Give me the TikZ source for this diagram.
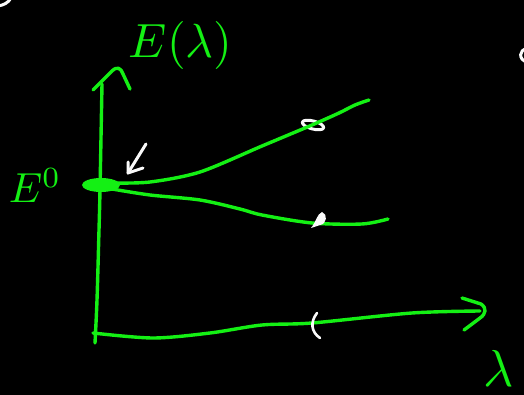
\documentclass[tikz,border=0pt]{standalone}
\usepackage{amsmath}
\usepackage{xcolor}
\usepackage{tikz}
\usetikzlibrary{calc}
\definecolor{inkgreen}{RGB}{20,240,20}
\definecolor{chalkwhite}{RGB}{250,250,250}

\begin{document}
\begin{tikzpicture}[x=1pt, y=-1pt, line cap=round, line join=round,
  every node/.style={text=inkgreen, inner sep=0pt},
  stroke/.style={inkgreen, line width=3.4pt},
  chalk/.style={chalkwhite, line width=3pt}]
  \fill[black] (0,0) rectangle (524,395);
  \useasboundingbox (0,0) rectangle (524,395);
  \coordinate (O) at (95,343); \coordinate (Ytop) at (102,84);
  \coordinate (Xstart) at (93,333); \coordinate (Xend) at (480,311);
  \coordinate (E0) at (101,185);
  % axes
  \draw[stroke] plot[smooth] coordinates {(O) (97,300) (99,230) (100,190) (Ytop)};
  \draw[stroke] (93,90) -- (112,71) .. controls (117,66) and (121,68) .. (123,74) -- (130,89);
  \draw[stroke] plot[smooth] coordinates {(Xstart) (153,338) (210,333) (262,325) (312,323) (412,313) (Xend)};
  \draw[stroke] (462,298) -- (481,304) .. controls (487,308) and (486,314) .. (480,318) -- (464,330);
  % branching levels
  \fill[inkgreen] (E0) ellipse (19 and 7);
  \draw[chalk] (313,125) ellipse[x radius=11, y radius=4, rotate=-15];
  \draw[stroke] plot[smooth] coordinates {(112,183) (150,182) (200,172) (262,146) (312,125) (339,113) (355,105) (369,100)};
  \draw[stroke] plot[smooth] coordinates {(112,189) (150,195) (200,200) (240,209) (262,215) (312,223) (362,224) (388,219)};
  \fill[chalkwhite] (322,212) .. controls (328,214) and (327,224) .. (320,225) -- (311,228) .. controls (316,222) and (317,214) .. cycle;
  \draw[chalk, line width=2.6pt] (317,313) .. controls (310,322) and (311,332) .. (320,338);
  % pointer
  \coordinate (tip) at (128,173);
  \draw[chalk] (146,144) -- (tip);
  \draw[chalk] (128,162) -- (tip) -- (143,168);
  % labels
  \node[anchor=base west, scale=4.8] (ylabel) at (128,58) {$E(\lambda)$};
  \node[anchor=base west, scale=4.2] (e0label) at (8,203) {$E^{0}$};
  \node[anchor=base west, scale=5.2] (xlabel) at (482,386) {$\lambda$};
  % stray marks
  \draw[chalk] (-2,6) .. controls (4,5) and (8,3) .. (11,-2);
  \draw[chalk] (527,49) .. controls (519,49) and (518,60) .. (527,62);
\end{tikzpicture}
\end{document}
